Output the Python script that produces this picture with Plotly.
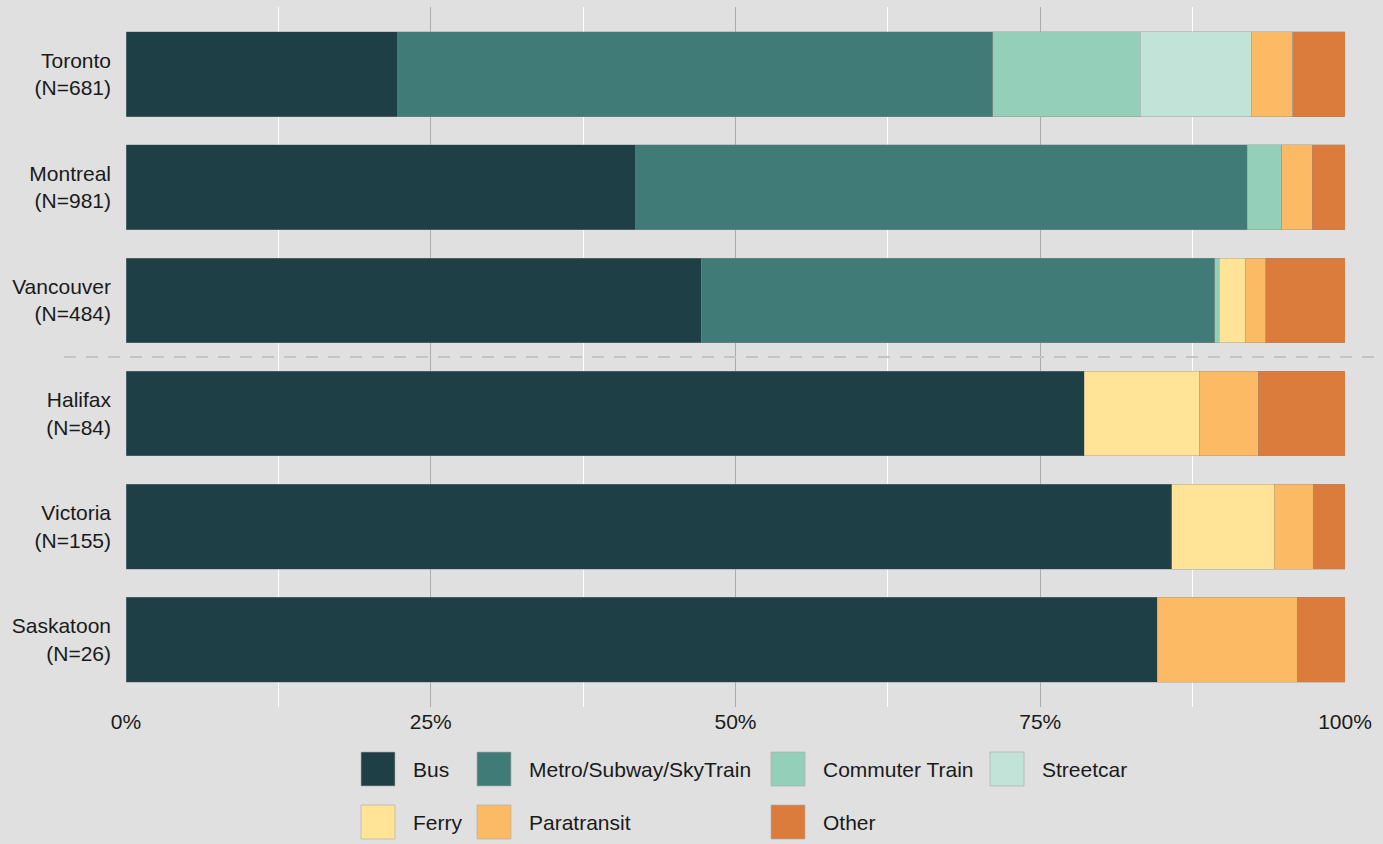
import plotly.graph_objects as go

# ---------------- data ----------------
cities = ["Toronto", "Montreal", "Vancouver", "Halifax", "Victoria", "Saskatoon"]
n_resp = [681, 981, 484, 84, 155, 26]

modes = ["Bus", "Metro/Subway/SkyTrain", "Commuter Train", "Streetcar",
         "Ferry", "Paratransit", "Other"]

bus = [22.3, 41.8, 47.2, 78.6, 85.8, 84.6]
metro = [48.8, 50.2, 42.1, 0, 0, 0]
commuter = [12.1, 2.8, 0.4, 0, 0, 0]
streetcar = [9.1, 0, 0, 0, 0, 0]
ferry = [0, 0, 2.1, 9.5, 8.4, 0]
paratransit = [3.4, 2.5, 1.7, 4.8, 3.2, 11.5]
other = [4.3, 2.7, 6.5, 7.1, 2.6, 3.9]

x_ticks = [0, 25, 50, 75, 100]
x_tick_labels = ["0%", "25%", "50%", "75%", "100%"]

# ---------------- styles ----------------
colors = ["#1F3F46", "#417B77", "#94CFBA", "#C2E3D8", "#FFE396", "#FDBA65", "#DB7C3D"]
series = [bus, metro, commuter, streetcar, ferry, paratransit, other]
BG = "#E0E0E0"
TXT = "#1A1A1A"
FONT = "Liberation Sans, Arial, sans-serif"
FS = 21

W, H = 1383, 844
ML, MR, MT, MB = 126, 38, 7, 137
PW = W - ML - MR
PH = H - MT - MB

ylabels = [f"{c}<br>(N={n})" for c, n in zip(cities, n_resp)]

fig = go.Figure()
for name, vals, col in zip(modes, series, colors):
    fig.add_trace(go.Bar(
        y=list(range(len(cities))),
        x=[v if v > 0 else None for v in vals],
        orientation="h",
        name=name,
        width=0.75,
        marker=dict(color=col, line=dict(color="rgba(140,140,140,0.55)", width=0.7)),
        showlegend=False,
        hovertemplate="%{x:.1f}%<extra>" + name + "</extra>",
    ))

# separator between large and small cities
fig.add_shape(type="line", xref="paper", yref="y",
              x0=(64 - ML) / PW, x1=(W - ML) / PW, y0=2.5, y1=2.5,
              line=dict(color="#C4C4C4", width=2, dash="12px,10px"), layer="above")

# legend drawn as keys (4 columns x 2 rows)
col_x = [361, 477, 771, 990]
row_y = [769, 822]
slots = [(0, 0), (0, 1), (0, 2), (0, 3), (1, 0), (1, 1), (1, 2)]
KEY = 34
for name, col, (r, c) in zip(modes, colors, slots):
    x0 = col_x[c]
    yc = row_y[r]
    fig.add_shape(type="rect", xref="paper", yref="paper",
                  x0=(x0 - ML) / PW, x1=(x0 + KEY - ML) / PW,
                  y0=(H - MB - (yc - KEY / 2)) / PH, y1=(H - MB - (yc + KEY / 2)) / PH,
                  fillcolor=col, line=dict(color="rgba(170,170,170,0.8)", width=0.8))
    fig.add_annotation(xref="paper", yref="paper",
                       x=(x0 + KEY + 16 - ML) / PW, y=(H - MB - yc) / PH,
                       text=name, showarrow=False, xanchor="left", yanchor="middle",
                       font=dict(size=FS, color=TXT, family=FONT))

fig.update_layout(
    width=W, height=H,
    barmode="stack",
    bargap=0.25,
    paper_bgcolor=BG, plot_bgcolor=BG,
    margin=dict(l=ML, r=MR, t=MT, b=MB, autoexpand=False),
    font=dict(family=FONT, size=FS, color=TXT),
    showlegend=False,
    xaxis=dict(
        range=[0, 100], tickvals=x_ticks, ticktext=x_tick_labels,
        showgrid=True, gridcolor="#ABABAB", gridwidth=1.3,
        minor=dict(tickvals=[12.5, 37.5, 62.5, 87.5], showgrid=True,
                   gridcolor="#FFFFFF", gridwidth=1.3),
        zeroline=False, showline=False, ticks="",
        tickfont=dict(size=FS, color=TXT, family=FONT),
        fixedrange=True,
    ),
    yaxis=dict(
        range=[5.595, -0.595],
        tickvals=list(range(len(cities))), ticktext=ylabels,
        showgrid=False, zeroline=False, showline=False, ticks="",
        ticklabelstandoff=14,
        tickfont=dict(size=FS, color=TXT, family=FONT),
        fixedrange=True,
    ),
)

fig.write_html(
    "out.html",
    config={"displayModeBar": False},
    post_script="document.body.style.margin='0px';document.body.style.background='" + BG + "';",
)
